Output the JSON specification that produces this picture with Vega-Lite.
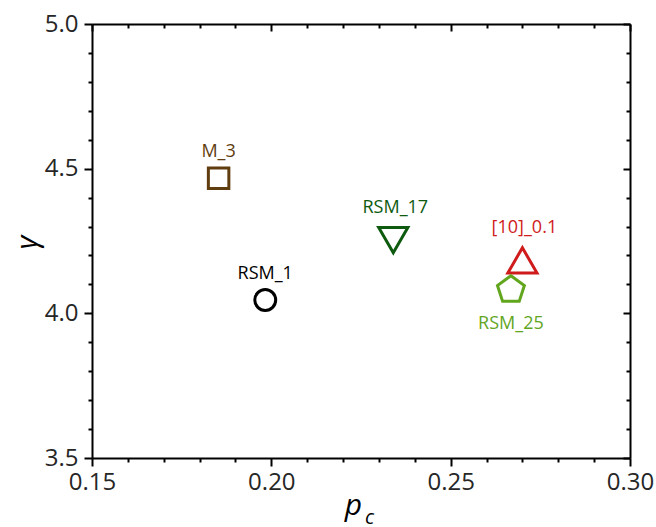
{
  "$schema": "https://vega.github.io/schema/vega-lite/v6.json",
  "width": 538,
  "height": 434,
  "autosize": "none",
  "padding": {"left": 92, "top": 24, "right": 26, "bottom": 69},
  "background": "white",
  "config": {"view": {"stroke": null}, "font": "Open Sans"},
  "datasets": {
    "pts": [
      {"name": "M_3", "pc": 0.1853, "gamma": 4.467},
      {"name": "RSM_1", "pc": 0.1983, "gamma": 4.046},
      {"name": "RSM_17", "pc": 0.2340, "gamma": 4.253},
      {"name": "[10]_0.1", "pc": 0.2700, "gamma": 4.183},
      {"name": "RSM_25", "pc": 0.2668, "gamma": 4.081}
    ]
  },
  "data": {"name": "pts"},
  "layer": [
    {
      "encoding": {
        "x": {
          "field": "pc", "type": "quantitative",
          "scale": {"domain": [0.15, 0.30], "nice": false, "zero": false},
          "axis": {
            "orient": "bottom",
            "values": [0.15,0.16,0.17,0.18,0.19,0.20,0.21,0.22,0.23,0.24,0.25,0.26,0.27,0.28,0.29,0.30],
            "labelExpr": "abs(datum.value*20 - round(datum.value*20)) < 0.001 ? format(datum.value, '.2f') : ''",
            "labelOverlap": false, "labelFlush": false, "labelBound": false,
            "labelFontSize": 24, "labelColor": "#262626", "labelPadding": 4,
            "tickSize": {"condition": {"test": "abs(datum.value*20 - round(datum.value*20)) < 0.001", "value": 8}, "value": 4},
            "tickColor": "black", "tickWidth": 2,
            "domainColor": "black", "domainWidth": 2,
            "grid": false,
            "title": "p", "titleFontSize": 30, "titleFontStyle": "italic", "titleFontWeight": "normal",
            "titleColor": "black", "titleX": 261, "titleY": 56, "titleBaseline": "alphabetic", "titleAlign": "center"
          }
        },
        "y": {
          "field": "gamma", "type": "quantitative",
          "scale": {"domain": [3.5, 5.0], "nice": false, "zero": false},
          "axis": {
            "orient": "left",
            "values": [3.5,3.6,3.7,3.8,3.9,4.0,4.1,4.2,4.3,4.4,4.5,4.6,4.7,4.8,4.9,5.0],
            "labelExpr": "abs(datum.value*2 - round(datum.value*2)) < 0.001 ? format(datum.value, '.1f') : ''",
            "labelOverlap": false, "labelFlush": false, "labelBound": false,
            "labelFontSize": 24, "labelColor": "#262626", "labelPadding": 6,
            "tickSize": {"condition": {"test": "abs(datum.value*2 - round(datum.value*2)) < 0.001", "value": 8}, "value": 4},
            "tickColor": "black", "tickWidth": 2,
            "domainColor": "black", "domainWidth": 2,
            "grid": false,
            "title": "γ", "titleFontSize": 30, "titleFontStyle": "italic", "titleFontWeight": "normal",
            "titleColor": "black", "titleX": -65, "titleY": 218, "titleAngle": -90,
            "titleBaseline": "middle", "titleAlign": "center"
          }
        },
        "color": {
          "field": "name", "type": "nominal", "legend": null,
          "scale": {"domain": ["M_3", "RSM_1", "RSM_17", "[10]_0.1", "RSM_25"],
                    "range": ["#603d0e", "#000000", "#0e5a0e", "#cf1b1b", "#62a61e"]}
        }
      },
      "layer": [
        {
          "mark": {"type": "point", "filled": false, "strokeWidth": 3, "opacity": 1},
          "encoding": {
            "shape": {
              "field": "name", "type": "nominal", "legend": null,
              "scale": {"domain": ["M_3", "RSM_1", "RSM_17", "[10]_0.1", "RSM_25"],
                        "range": ["square", "circle", "triangle-down", "triangle-up", "M0,-1L0.951,-0.309L0.588,0.809L-0.588,0.809L-0.951,-0.309Z"]}
            },
            "size": {
              "field": "name", "type": "nominal", "legend": null,
              "scale": {"type": "ordinal", "domain": ["M_3", "RSM_1", "RSM_17", "[10]_0.1", "RSM_25"],
                        "range": [420, 437, 850, 850, 800]}
            }
          }
        },
        {
          "transform": [{"filter": {"field": "name", "oneOf": ["M_3", "RSM_1"]}}],
          "mark": {"type": "text", "fontSize": 18, "baseline": "alphabetic", "align": "center", "dy": -21},
          "encoding": {"text": {"field": "name"}}
        },
        {
          "transform": [{"filter": {"field": "name", "oneOf": ["RSM_17", "[10]_0.1"]}}],
          "mark": {"type": "text", "fontSize": 18, "baseline": "alphabetic", "align": "center", "dy": -27, "dx": 2},
          "encoding": {"text": {"field": "name"}}
        },
        {
          "transform": [{"filter": {"field": "name", "equal": "RSM_25"}}],
          "mark": {"type": "text", "fontSize": 18, "baseline": "alphabetic", "align": "center", "dy": 39},
          "encoding": {"text": {"field": "name"}}
        }
      ]
    },
    {
      "mark": {"type": "point", "opacity": 0},
      "encoding": {
        "x": {
          "field": "pc", "type": "quantitative",
          "scale": {"domain": [0.15, 0.30], "nice": false, "zero": false},
          "axis": {
            "orient": "top",
            "values": [0.15,0.16,0.17,0.18,0.19,0.20,0.21,0.22,0.23,0.24,0.25,0.26,0.27,0.28,0.29,0.30],
            "labels": false, "title": null, "grid": false,
            "tickSize": {"condition": {"test": "abs(datum.value*20 - round(datum.value*20)) < 0.001", "value": -7}, "value": -4},
            "tickColor": "black", "tickWidth": 2,
            "domainColor": "black", "domainWidth": 2
          }
        },
        "y": {
          "field": "gamma", "type": "quantitative",
          "scale": {"domain": [3.5, 5.0], "nice": false, "zero": false},
          "axis": {
            "orient": "right",
            "values": [3.5,3.6,3.7,3.8,3.9,4.0,4.1,4.2,4.3,4.4,4.5,4.6,4.7,4.8,4.9,5.0],
            "labels": false, "title": null, "grid": false,
            "tickSize": {"condition": {"test": "abs(datum.value*2 - round(datum.value*2)) < 0.001", "value": -7}, "value": -4},
            "tickColor": "black", "tickWidth": 2,
            "domainColor": "black", "domainWidth": 2
          }
        }
      }
    },
    {
      "mark": {"type": "point", "opacity": 0},
      "encoding": {
        "x": {
          "field": "pc", "type": "quantitative",
          "scale": {"domain": [0.15, 0.30], "nice": false, "zero": false},
          "axis": {
            "orient": "bottom", "labels": false, "ticks": false, "domain": false, "grid": false,
            "title": "c", "titleFontSize": 20, "titleFontStyle": "italic", "titleFontWeight": "normal",
            "titleColor": "black", "titleX": 277, "titleY": 65, "titleBaseline": "alphabetic", "titleAlign": "center"
          }
        },
        "y": {
          "field": "gamma", "type": "quantitative",
          "scale": {"domain": [3.5, 5.0], "nice": false, "zero": false},
          "axis": null
        }
      }
    }
  ],
  "resolve": {"scale": {"x": "independent", "y": "independent"}}
}
